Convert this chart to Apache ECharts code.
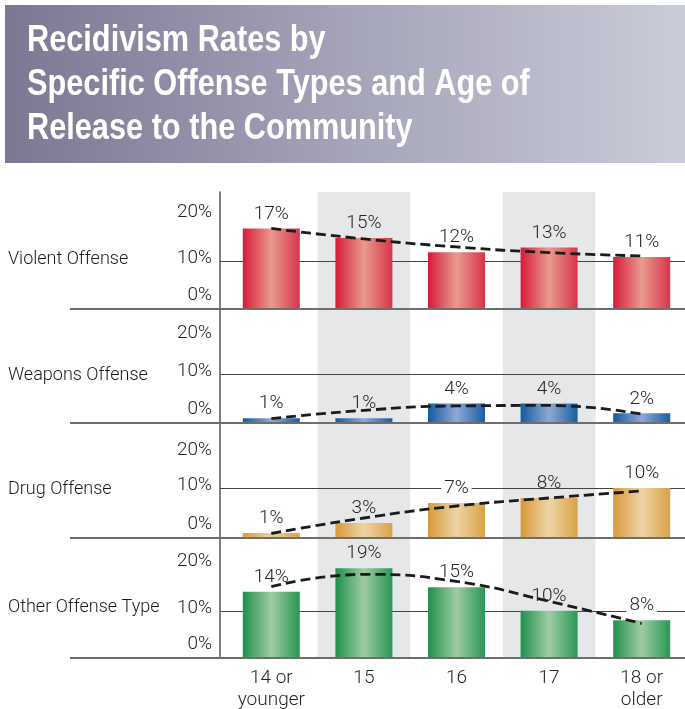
<!DOCTYPE html>
<html>
<head>
<meta charset="utf-8">
<script src="https://cdn.jsdelivr.net/npm/echarts@6/dist/echarts.min.js"></script>
<style>
  html, body { margin: 0; padding: 0; background: #fff; }
  #chart { width: 685px; height: 709px; }
</style>
</head>
<body>
<div id="chart"></div>
<script>
// ---- data ----
const titleLines = ['Recidivism Rates by', 'Specific Offense Types and Age of', 'Release to the Community'];
const ageGroups = ['14 or\nyounger', '15', '16', '17', '18 or\nolder'];
const shadedGroups = ['15', '17'];
const offenseTypes = ['Violent Offense', 'Weapons Offense', 'Drug Offense', 'Other Offense Type'];
const yTicks = [0, 10, 20];

const violentRates = [17, 15, 12, 13, 11];
const weaponsRates = [1, 1, 4, 4, 2];
const drugRates = [1, 3, 7, 8, 10];
const otherRates = [14, 19, 15, 10, 8];

// dashed trend curves
const violentTrend = [17.0, 14.8, 13.1, 11.9, 11.2];
const weaponsTrend = [0.9, 2.6, 3.5, 3.6, 1.8];
const drugTrend = [0.9, 4.0, 6.4, 8.0, 9.4];
const otherTrend = [15.1, 17.7, 16.2, 12.0, 7.3];

// ---- layout / style ----
const FONT = "Roboto, 'Liberation Sans', sans-serif";
const TITLE_FONT = "'Liberation Sans', Arial, sans-serif";
const TEXT = '#262626';
const plotLeft = 225, plotWidth = 463;
const panelTop = [192, 309, 423, 538];
const panelHeight = [117, 114, 115, 120];
const panelMax = [24.7, 23.4, 23.0, 25.4];
// vertical nudge of the "20%" tick text in each panel
const topLabelPad = [[0, 0, 4, 0], [16, 0, 0, 0], [24, 0, 0, 0], [0, 0, 4, 0]];

function hGrad(edgeL, mid, edgeR) {
  return new echarts.graphic.LinearGradient(0, 0, 1, 0, [
    { offset: 0, color: edgeL },
    { offset: 0.5, color: mid },
    { offset: 1, color: edgeR }
  ]);
}

const panels = [
  { rates: violentRates, trend: violentTrend, fill: hGrad('#d71a3a', '#e99a8e', '#d8344a') },
  { rates: weaponsRates, trend: weaponsTrend, fill: hGrad('#145a9e', '#8fa8d4', '#1a5ea2') },
  { rates: drugRates, trend: drugTrend, fill: hGrad('#d8993a', '#eed4a4', '#d9a246') },
  { rates: otherRates, trend: otherTrend, fill: hGrad('#1f914c', '#a0cba4', '#279757') }
];

const tickText = { fontFamily: FONT, fontWeight: 300, fontSize: 19, color: TEXT };

const grids = [], xAxes = [], yAxes = [], series = [];

panels.forEach((p, i) => {
  grids.push({ left: plotLeft, width: plotWidth, top: panelTop[i], height: panelHeight[i],
    outerBoundsMode: 'none', containLabel: false });
  const last = i === panels.length - 1;
  xAxes.push({
    gridIndex: i, type: 'category', data: ageGroups,
    axisLine: { show: false }, axisTick: { show: false },
    axisLabel: Object.assign({ show: last, margin: 9, lineHeight: 22 }, tickText)
  });
  yAxes.push({
    gridIndex: i, type: 'value', min: 0, max: panelMax[i], offset: 5,
    axisLine: { show: true, lineStyle: { color: '#555', width: 1.5 } },
    axisTick: { show: true, inside: true, length: 5, customValues: [10], lineStyle: { color: '#444', width: 1 } },
    splitLine: { show: true, lineStyle: { color: '#444', width: 1 } },
    axisLabel: {
      customValues: yTicks, margin: 8,
      formatter: v => v === 0 ? '{zero|0%}' : (v === 10 ? '{ten|10%}' : '{top|' + v + '%}'),
      rich: {
        zero: Object.assign({ padding: [0, 0, 28, 0] }, tickText),
        ten: Object.assign({ padding: [0, 0, 6, 0] }, tickText),
        top: Object.assign({ padding: topLabelPad[i] }, tickText)
      }
    },
    name: offenseTypes[i], nameLocation: 'middle', nameRotate: 0, nameGap: 212,
    nameTextStyle: { align: 'left', verticalAlign: 'top', fontFamily: FONT, fontWeight: 300,
      fontSize: 18, color: '#1a1a1a' }
  });
  series.push({
    type: 'bar', xAxisIndex: i, yAxisIndex: i, barWidth: 57, z: 2,
    itemStyle: { color: p.fill },
    data: p.rates.map((v, k) => ({
      value: v,
      label: { backgroundColor: shadedGroups.includes(ageGroups[k]) ? 'transparent' : '#fff' }
    })),
    label: Object.assign({
      show: true, position: 'top', distance: 5, formatter: '{c}%', padding: [0, 3, 0, 3]
    }, tickText)
  });
  series.push({
    type: 'line', xAxisIndex: i, yAxisIndex: i, data: p.trend, smooth: true,
    symbol: 'none', z: 3, silent: true,
    lineStyle: { color: '#1b1b1b', width: 2.8, type: [10, 5] }
  });
});

// full-height grid holding the shaded age columns
const shadeIdx = panels.length;
grids.push({ left: plotLeft, width: plotWidth, top: panelTop[0],
  height: panelTop[3] + panelHeight[3] - panelTop[0], outerBoundsMode: 'none' });
xAxes.push({ gridIndex: shadeIdx, type: 'category', data: ageGroups, show: false });
yAxes.push({ gridIndex: shadeIdx, type: 'value', min: 0, max: 1, show: false });
series.push({
  type: 'bar', xAxisIndex: shadeIdx, yAxisIndex: shadeIdx, barWidth: '100%', z: -1, silent: true,
  itemStyle: { color: '#e6e7e9' },
  data: ageGroups.map(g => shadedGroups.includes(g) ? 1 : '-')
});

const banner = {
  id: 'banner', type: 'rect', z: -5,
  shape: { x: 5, y: 5, width: 680, height: 158 },
  style: {
    fill: new echarts.graphic.LinearGradient(0, 0, 1, 0, [
      { offset: 0, color: '#7b7893' },
      { offset: 0.5, color: '#a4a3b8' },
      { offset: 1, color: '#cbccd9' }
    ])
  }
};

// heading, set in a horizontally condensed bold face
const heading = {
  id: 'heading', type: 'text', z: 10, x: 27, y: 19, scaleX: 0.83, scaleY: 1,
  style: {
    text: titleLines.join('\n'), fill: '#fff', fontFamily: TITLE_FONT, fontWeight: 'bold',
    fontSize: 37, lineHeight: 44, verticalAlign: 'top', align: 'left'
  }
};

const chart = echarts.init(document.getElementById('chart'), null, { renderer: 'canvas' });
chart.setOption({
  animation: false,
  backgroundColor: '#fff',
  graphic: [banner, heading],
  grid: grids, xAxis: xAxes, yAxis: yAxes, series: series
});

// zero baselines, reaching left under the row labels
const baselines = panels.map((p, i) => {
  const y = chart.convertToPixel({ xAxisIndex: i, yAxisIndex: i }, [0, 0])[1];
  return {
    id: 'base' + i, type: 'line', z: 5,
    shape: { x1: 70, y1: y, x2: 685, y2: y },
    style: { stroke: '#6e6e6e', lineWidth: 2 }
  };
});
chart.setOption({ graphic: [banner, heading].concat(baselines) });
</script>
</body>
</html>
